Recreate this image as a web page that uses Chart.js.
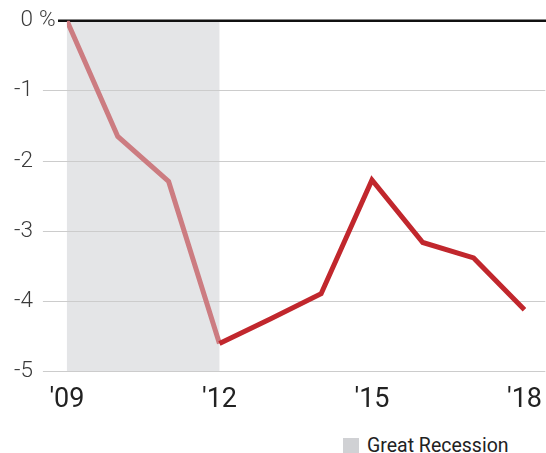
<!DOCTYPE html>
<html>
<head>
<meta charset="utf-8">
<script src="https://cdn.jsdelivr.net/npm/chart.js@4/dist/chart.umd.min.js"></script>
<style>
  html, body { margin: 0; padding: 0; background: #fff; }
  #wrap { position: relative; width: 546px; height: 453px; }
  #legend {
    position: absolute; left: 343px; top: 434px;
    font: 19.5px Roboto, sans-serif; color: #222;
    display: flex; align-items: center;
  }
  #legend .sw { width: 16px; height: 16px; background: #d0d1d4; margin-right: 8px; }
</style>
</head>
<body>
<div id="wrap">
  <canvas id="chart" width="546" height="420"></canvas>
  <div id="legend"><span class="sw"></span><span>Great Recession</span></div>
</div>
<script>
// yearly change, percent
const years = [2009, 2010, 2011, 2012, 2013, 2014, 2015, 2016, 2017, 2018];
const change = [0, -1.65, -2.29, -4.6, -4.25, -3.89, -2.27, -3.16, -3.38, -4.12];
const xTicks = [2009, 2012, 2015, 2018];
const yTicks = [0, -1, -2, -3, -4, -5];
const recession = [2009, 2012];

const RED = '#c1272d';
const RED_LIGHT = '#cc7c81';

// grey band behind the grid, black zero line, and the "%" after the 0 tick
const extras = {
  id: 'extras',
  beforeDraw(chart) {
    const { ctx, scales: { x, y } } = chart;
    ctx.save();
    ctx.fillStyle = '#e4e5e7';
    const x0 = x.getPixelForValue(recession[0]);
    const x1 = x.getPixelForValue(recession[1]);
    ctx.fillRect(x0, y.getPixelForValue(0), x1 - x0, y.getPixelForValue(-5) - y.getPixelForValue(0));
    ctx.restore();
  },
  beforeDatasetsDraw(chart) {
    const { ctx, scales: { y } } = chart;
    const py = y.getPixelForValue(0);
    ctx.save();
    ctx.strokeStyle = '#111';
    ctx.lineWidth = 2.5;
    ctx.beginPath();
    ctx.moveTo(58, py);
    ctx.lineTo(chart.width, py);
    ctx.stroke();
    ctx.fillStyle = '#3a3a3a';
    ctx.font = '300 22.5px Roboto';
    ctx.textBaseline = 'middle';
    ctx.fillText('%', 39, py);
    ctx.restore();
  }
};

new Chart(document.getElementById('chart'), {
  type: 'line',
  data: {
    datasets: [{
      data: years.map((yr, i) => ({ x: yr, y: change[i] })),
      borderColor: RED,
      borderWidth: 5,
      pointRadius: 0,
      tension: 0,
      segment: {
        borderColor: c => (c.p1DataIndex <= 3 ? RED_LIGHT : RED)
      }
    }]
  },
  options: {
    responsive: false,
    animation: false,
    layout: { padding: { top: 0, left: 4, right: 0, bottom: 0 } },
    plugins: { legend: { display: false }, tooltip: { enabled: false } },
    scales: {
      x: {
        type: 'linear',
        min: 2009,
        max: 2018.41,
        afterBuildTicks: s => { s.ticks = xTicks.map(v => ({ value: v })); },
        grid: { display: false },
        border: { display: false },
        ticks: {
          color: '#222',
          font: { family: 'Roboto', size: 27 },
          padding: 4,
          maxRotation: 0,
          callback: v => "'" + String(v).slice(2)
        }
      },
      y: {
        min: -5,
        max: 0,
        afterBuildTicks: s => { s.ticks = yTicks.map(v => ({ value: v })); },
        border: { display: false },
        grid: {
          color: c => (c.tick && c.tick.value === 0 ? 'rgba(0,0,0,0)' : '#cccccc'),
          lineWidth: 1,
          tickLength: 24
        },
        ticks: {
          color: '#3a3a3a',
          font: { family: 'Roboto', size: 22.5, weight: 300, lineHeight: 0.95 },
          padding: 10,
          crossAlign: 'near',
          callback: v => String(v)
        }
      }
    }
  },
  plugins: [extras]
});
</script>
</body>
</html>
